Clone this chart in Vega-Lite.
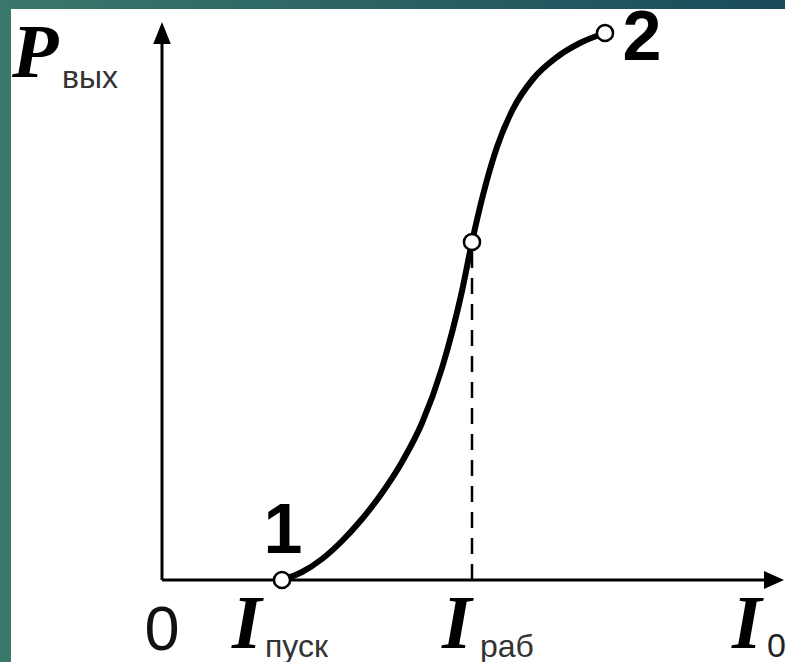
{
  "$schema": "https://vega.github.io/schema/vega-lite/v6.json",
  "width": 785,
  "height": 662,
  "padding": 0,
  "autosize": {"type": "none"},
  "background": "white",
  "config": {"view": {"stroke": null}},
  "datasets": {
    "curve": [
      {"I": 1.20, "P": 0.00},
      {"I": 1.40, "P": 0.08},
      {"I": 1.60, "P": 0.21},
      {"I": 1.80, "P": 0.39},
      {"I": 2.00, "P": 0.61},
      {"I": 2.20, "P": 0.87},
      {"I": 2.40, "P": 1.18},
      {"I": 2.60, "P": 1.57},
      {"I": 2.80, "P": 2.12},
      {"I": 3.00, "P": 2.89},
      {"I": 3.10, "P": 3.38},
      {"I": 3.21, "P": 3.85},
      {"I": 3.35, "P": 4.33},
      {"I": 3.51, "P": 4.71},
      {"I": 3.71, "P": 5.01},
      {"I": 3.95, "P": 5.23},
      {"I": 4.18, "P": 5.37},
      {"I": 4.43, "P": 5.47}
    ],
    "points": [
      {"I": 1.20, "P": 0.00, "name": "1"},
      {"I": 3.10, "P": 3.38, "name": "раб"},
      {"I": 4.43, "P": 5.47, "name": "2"}
    ],
    "bigItalic": [
      {"x": -1.50, "y": 5.03, "t": "P"},
      {"x": 0.70, "y": -0.68, "t": "I"},
      {"x": 2.80, "y": -0.68, "t": "I"},
      {"x": 5.70, "y": -0.68, "t": "I"}
    ],
    "subs": [
      {"x": -1.00, "y": 4.92, "t": "вых"},
      {"x": 1.03, "y": -0.77, "t": "пуск"},
      {"x": 3.18, "y": -0.77, "t": "раб"}
    ]
  },
  "layer": [
    {
      "data": {"values": [{"x": -1.62, "x2": -1.51, "y": -0.82, "y2": 5.80}]},
      "mark": {"type": "rect", "color": "#3a786b"},
      "encoding": {
        "x": {"field": "x", "type": "quantitative", "scale": {"domain": [-1.62, 6.23], "nice": false, "zero": false}, "axis": null},
        "x2": {"field": "x2"},
        "y": {"field": "y", "type": "quantitative", "scale": {"domain": [-0.82, 5.80], "nice": false, "zero": false}, "axis": null},
        "y2": {"field": "y2"}
      }
    },
    {
      "data": {"values": [{"x": -1.62, "x2": 6.23, "y": 5.71, "y2": 5.80}]},
      "mark": {"type": "rect", "color": {"gradient": "linear", "x1": 0, "y1": 0, "x2": 1, "y2": 0, "stops": [{"offset": 0, "color": "#3a786b"}, {"offset": 1, "color": "#1b4b5b"}]}},
      "encoding": {
        "x": {"field": "x", "type": "quantitative", "axis": null},
        "x2": {"field": "x2"},
        "y": {"field": "y", "type": "quantitative", "axis": null},
        "y2": {"field": "y2"}
      }
    },
    {
      "data": {"values": [{"x": 0, "y": 0, "y2": 5.38}]},
      "mark": {"type": "rule", "color": "black", "strokeWidth": 3},
      "encoding": {
        "x": {"field": "x", "type": "quantitative"},
        "y": {"field": "y", "type": "quantitative"},
        "y2": {"field": "y2"}
      }
    },
    {
      "data": {"values": [{"x": 0, "x2": 6.05, "y": 0}]},
      "mark": {"type": "rule", "color": "black", "strokeWidth": 3},
      "encoding": {
        "x": {"field": "x", "type": "quantitative"},
        "x2": {"field": "x2"},
        "y": {"field": "y", "type": "quantitative"}
      }
    },
    {
      "data": {"values": [{"x": 0, "y": 5.47}]},
      "mark": {"type": "point", "shape": "M0,-1L0.8,1L-0.8,1Z", "size": 484, "filled": true, "color": "black", "opacity": 1},
      "encoding": {
        "x": {"field": "x", "type": "quantitative"},
        "y": {"field": "y", "type": "quantitative"}
      }
    },
    {
      "data": {"values": [{"x": 6.12, "y": 0}]},
      "mark": {"type": "point", "shape": "M1,0L-1,-0.9L-1,0.9Z", "size": 400, "filled": true, "color": "black", "opacity": 1},
      "encoding": {
        "x": {"field": "x", "type": "quantitative"},
        "y": {"field": "y", "type": "quantitative"}
      }
    },
    {
      "data": {"values": [{"x": 3.10, "y": 0, "y2": 3.38}]},
      "mark": {"type": "rule", "color": "black", "strokeWidth": 2.5, "strokeDash": [16, 10]},
      "encoding": {
        "x": {"field": "x", "type": "quantitative"},
        "y": {"field": "y", "type": "quantitative"},
        "y2": {"field": "y2"}
      }
    },
    {
      "data": {"name": "curve"},
      "mark": {"type": "line", "color": "black", "strokeWidth": 6, "interpolate": "monotone", "strokeCap": "round"},
      "encoding": {
        "x": {"field": "I", "type": "quantitative"},
        "y": {"field": "P", "type": "quantitative"}
      }
    },
    {
      "data": {"name": "points"},
      "mark": {"type": "point", "shape": "circle", "size": 260, "filled": true, "fill": "white", "stroke": "black", "strokeWidth": 2.5, "opacity": 1},
      "encoding": {
        "x": {"field": "I", "type": "quantitative"},
        "y": {"field": "P", "type": "quantitative"}
      }
    },
    {
      "data": {"name": "bigItalic"},
      "mark": {"type": "text", "font": "Liberation Serif", "fontStyle": "italic", "fontWeight": "bold", "fontSize": 76, "align": "left", "baseline": "alphabetic", "color": "black"},
      "encoding": {
        "x": {"field": "x", "type": "quantitative"},
        "y": {"field": "y", "type": "quantitative"},
        "text": {"field": "t"}
      }
    },
    {
      "data": {"name": "subs"},
      "mark": {"type": "text", "font": "Liberation Sans", "fontSize": 32, "align": "left", "baseline": "alphabetic", "color": "#333333"},
      "encoding": {
        "x": {"field": "x", "type": "quantitative"},
        "y": {"field": "y", "type": "quantitative"},
        "text": {"field": "t"}
      }
    },
    {
      "data": {"values": [{"x": 6.05, "y": -0.77, "t": "0"}]},
      "mark": {"type": "text", "font": "Liberation Sans", "fontSize": 34, "align": "left", "baseline": "alphabetic", "color": "#222222"},
      "encoding": {
        "x": {"field": "x", "type": "quantitative"},
        "y": {"field": "y", "type": "quantitative"},
        "text": {"field": "t"}
      }
    },
    {
      "data": {"values": [{"x": 0, "y": -0.70, "t": "0"}]},
      "mark": {"type": "text", "font": "Liberation Sans", "fontSize": 63, "align": "center", "baseline": "alphabetic", "color": "#111111"},
      "encoding": {
        "x": {"field": "x", "type": "quantitative"},
        "y": {"field": "y", "type": "quantitative"},
        "text": {"field": "t"}
      }
    },
    {
      "data": {"values": [{"x": 1.21, "y": 0.27, "t": "1"}, {"x": 4.80, "y": 5.20, "t": "2"}]},
      "mark": {"type": "text", "font": "Liberation Sans", "fontWeight": "bold", "fontSize": 70, "align": "center", "baseline": "alphabetic", "color": "black"},
      "encoding": {
        "x": {"field": "x", "type": "quantitative"},
        "y": {"field": "y", "type": "quantitative"},
        "text": {"field": "t"}
      }
    }
  ]
}
